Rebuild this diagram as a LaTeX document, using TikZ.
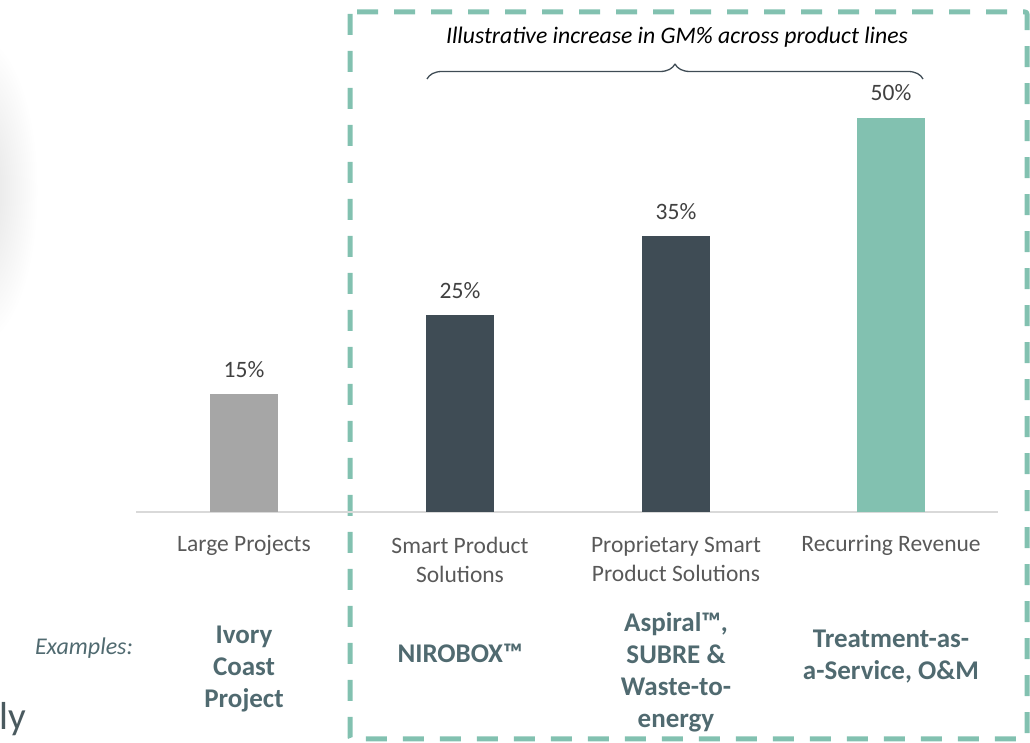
\documentclass[tikz,border=0pt]{standalone}
\usepackage{fontspec}
\setmainfont{Carlito}
\usetikzlibrary{decorations.pathreplacing}
\definecolor{barGray}{RGB}{166,166,166}
\definecolor{barSlate}{RGB}{63,76,85}
\definecolor{barTeal}{RGB}{130,193,176}
\definecolor{axisGray}{RGB}{217,217,217}
\definecolor{catText}{RGB}{89,89,89}
\definecolor{valText}{RGB}{64,64,64}
\definecolor{exText}{RGB}{80,106,112}
\definecolor{lyText}{RGB}{74,90,95}

\begin{document}
\begin{tikzpicture}[line join=bevel,
  valuelabel/.style={text=valText,font=\fontsize{23.5bp}{29bp}\selectfont,inner sep=0pt},
  catlabel/.style={text=catText,font=\fontsize{23.5bp}{29bp}\selectfont,align=center,inner sep=0pt},
  exlabel/.style={text=exText,font=\fontsize{27bp}{32bp}\selectfont\bfseries,align=center,inner sep=0pt}]
  \useasboundingbox (0bp,0bp) rectangle (1030bp,743bp);
%%
  % Shadow at left edge
  \shade[inner color=black!12,outer color=white] (-22bp,553bp) ellipse (60bp and 155bp);
  \node[anchor=base west,inner sep=0pt,text=lyText,font=\fontsize{39bp}{44bp}\selectfont] (ly) at (-1bp,14bp) {ly};
  % Frame: product lines
  \draw[barTeal,line width=5bp,dash pattern=on 21bp off 16bp,rounded corners=2bp]
    (350bp,731bp) rectangle (1027bp,4bp);
  % Axis
  \coordinate (axL) at (136bp,231bp);
  \coordinate (axR) at (998bp,231bp);
  \draw[axisGray,line width=1.5bp] (axL) -- (axR);
  % Bar: Large Projects
  \fill[barGray] (210bp,231bp) rectangle (278bp,349bp);
  \node[valuelabel] (v1) at (244bp,373bp) {15\%};
  \node[catlabel] (c1) at (244bp,198bp) {Large Projects};
  % Bar: Smart Product Solutions
  \fill[barSlate] (426bp,231bp) rectangle (494bp,428bp);
  \node[valuelabel] (v2) at (460bp,452bp) {25\%};
  \node[catlabel] (c2) at (460bp,183.5bp) {Smart Product\\Solutions};
  % Bar: Proprietary Smart Product Solutions
  \fill[barSlate] (642bp,231bp) rectangle (710bp,507bp);
  \node[valuelabel] (v3) at (676bp,531bp) {35\%};
  \node[catlabel] (c3) at (676bp,183.5bp) {Proprietary Smart\\Product Solutions};
  % Bar: Recurring Revenue
  \fill[barTeal] (857bp,231bp) rectangle (925bp,625bp);
  \node[valuelabel] (v4) at (891bp,650bp) {50\%};
  \node[catlabel] (c4) at (891bp,198bp) {Recurring Revenue};
  % Brace and title
  \coordinate (brL) at (427bp,664bp);
  \coordinate (brR) at (923bp,664bp);
  \draw[barSlate,line width=1.3bp,decorate,decoration={brace,amplitude=15bp}] (brL) -- (brR);
  \node[inner sep=0pt,font=\fontsize{23.7bp}{28bp}\selectfont\itshape] (title) at (677bp,706bp)
    {Illustrative increase in GM\% across product lines};
  % Examples
  \node[inner sep=0pt,text=exText,font=\fontsize{24bp}{28bp}\selectfont\itshape] (exs) at (84bp,95bp) {Examples:};
  \node[exlabel] (e1) at (244bp,74bp) {Ivory\\Coast\\Project};
  \node[exlabel] (e2) at (460bp,90bp) {NIROBOX™};
  \node[exlabel] (e3) at (676bp,71bp) {Aspiral™,\\SUBRE \&\\Waste-to-\\energy};
  \node[exlabel] (e4) at (891bp,86bp) {Treatment-as-\\a-Service, O\&M};
%
\end{tikzpicture}
\end{document}
